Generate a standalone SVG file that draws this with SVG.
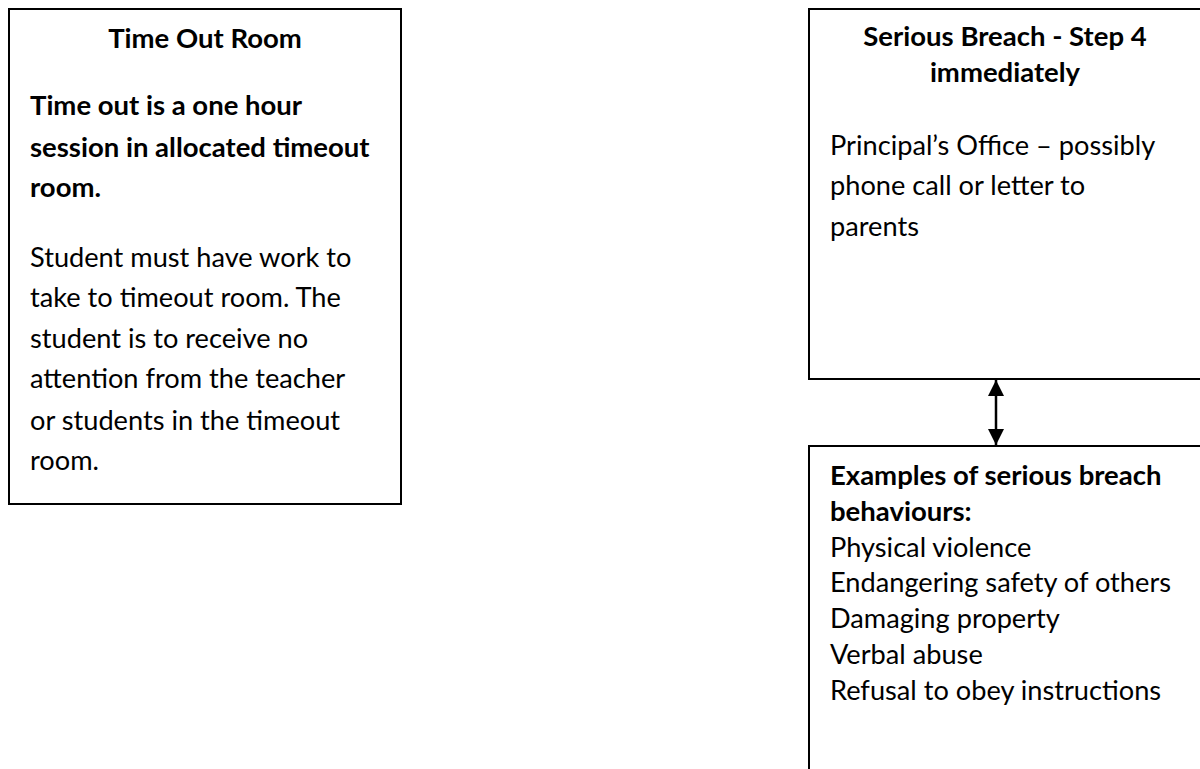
<svg xmlns="http://www.w3.org/2000/svg" width="1200" height="769" viewBox="0 0 1200 769">
  <defs>
    <style>
      .box { fill: #ffffff; stroke: #000000; stroke-width: 2; }
      .t { font-family: "Lato", "Open Sans", "Liberation Sans", sans-serif; font-size: 27.2px; fill: #000000; }
      .b { font-weight: bold; font-size: 27.5px; }
      .c { text-anchor: middle; }
      .link { stroke: #000000; stroke-width: 2.5; fill: none; }
    </style>
    <marker id="head" viewBox="0 0 16 16" refX="16" refY="8" markerWidth="16" markerHeight="16" markerUnits="userSpaceOnUse" orient="auto-start-reverse">
      <path d="M0,0 L16,8 L0,16 z" fill="#000000"/>
    </marker>
  </defs>
  <rect width="1200" height="769" fill="#ffffff"/>

  <!-- Time out room -->
  <g id="time-out-room">
    <rect class="box" x="9" y="9" width="392" height="495"/>
    <text class="t b c" x="205" y="48">Time Out Room</text>
    <text class="t b" x="30" y="115">Time out is a one hour</text>
    <text class="t b" x="30" y="157">session in allocated timeout</text>
    <text class="t b" x="30" y="197">room.</text>
    <text class="t" x="30" y="267">Student must have work to</text>
    <text class="t" x="30" y="307">take to timeout room. The</text>
    <text class="t" x="30" y="348">student is to receive no</text>
    <text class="t" x="30" y="388">attention from the teacher</text>
    <text class="t" x="30" y="430">or students in the timeout</text>
    <text class="t" x="30" y="470">room.</text>
  </g>

  <!-- Serious breach, step 4 -->
  <g id="serious-breach">
    <rect class="box" x="809" y="9" width="400" height="370"/>
    <text class="t b c" x="1005" y="46">Serious Breach - Step 4</text>
    <text class="t b c" x="1005" y="82">immediately</text>
    <text class="t" x="830" y="155">Principal’s Office – possibly</text>
    <text class="t" x="830" y="195">phone call or letter to</text>
    <text class="t" x="830" y="236">parents</text>
  </g>

  <!-- Examples of serious breach behaviours -->
  <g id="breach-examples">
    <rect class="box" x="809" y="446" width="400" height="340"/>
    <text class="t b" x="830" y="485">Examples of serious breach</text>
    <text class="t b" x="830" y="521">behaviours:</text>
    <text class="t" x="830" y="557">Physical violence</text>
    <text class="t" x="830" y="592">Endangering safety of others</text>
    <text class="t" x="830" y="628">Damaging property</text>
    <text class="t" x="830" y="664">Verbal abuse</text>
    <text class="t" x="830" y="700">Refusal to obey instructions</text>
  </g>

  <!-- Connectors -->
  <g id="connectors">
    <line class="link" x1="996" y1="380" x2="996" y2="445" marker-start="url(#head)" marker-end="url(#head)"/>
  </g>
</svg>
